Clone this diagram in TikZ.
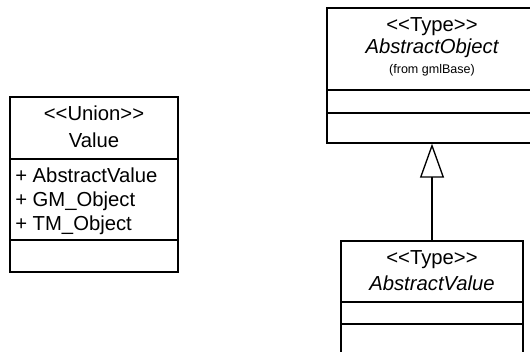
\documentclass[tikz,border=0pt]{standalone}
\usepackage{fontspec}
\setmainfont{Liberation Sans}
\usetikzlibrary{positioning,arrows.meta}
\tikzset{
  classbox/.style={rectangle, draw=black, line width=1pt, inner sep=0pt},
  sep/.style     ={draw=black, line width=1pt},
  txt/.style     ={font=\fontsize{15.2}{18}\selectfont, inner sep=0pt, anchor=base},
  txtit/.style   ={txt, font=\fontsize{15.2}{18}\selectfont\itshape},
  attr/.style    ={txt, anchor=base west},
  from/.style    ={font=\fontsize{9.4}{11}\selectfont, inner sep=0pt, anchor=base},
  gen/.style     ={-{Triangle[open, length=25.5pt, width=18pt]}, line width=1pt},
}
\begin{document}
\begin{tikzpicture}[x=0.75pt, y=-0.75pt]
  \useasboundingbox (0,0) rectangle (530,351);
  \clip (0,0) rectangle (530,351);
  % union class
  \node[classbox, minimum width=126pt, minimum height=131.25pt] (value) at (94,184.5) {};
  \node[txt] (valst) at (94,120) {<{}<Union>{}>};
  \node[txt] (valnm) at (94,147) {Value};
  \draw[sep] (value.west |- 0,159) -- (value.east |- 0,159);
  \node[attr] (at1) at (15,182) {+ AbstractValue};
  \node[attr] (at2) at (15,206) {+ GM\_Object};
  \node[attr] (at3) at (15,230) {+ TM\_Object};
  \draw[sep] (value.west |- 0,240) -- (value.east |- 0,240);
  % supertype
  \node[classbox, minimum width=157.5pt, minimum height=101.25pt] (absobj) at (432,75.5) {};
  \node[txt] (aost) at (432,31) {<{}<Type>{}>};
  \node[txtit] (aonm) at (432,53) {AbstractObject};
  \node[from] (aofr) at (432,73) {(from gmlBase)};
  \draw[sep] (absobj.west |- 0,90) -- (absobj.east |- 0,90);
  \draw[sep] (absobj.west |- 0,113) -- (absobj.east |- 0,113);
  % subtype
  \node[classbox, minimum width=136.5pt, minimum height=87pt] (absval) at (432,299) {};
  \node[txt] (avst) at (432,264) {<{}<Type>{}>};
  \node[txtit] (avnm) at (432,290) {AbstractValue};
  \draw[sep] (absval.west |- 0,302) -- (absval.east |- 0,302);
  \draw[sep] (absval.west |- 0,324) -- (absval.east |- 0,324);
  \draw[gen] (absval) -- (absobj);
\end{tikzpicture}
\end{document}
